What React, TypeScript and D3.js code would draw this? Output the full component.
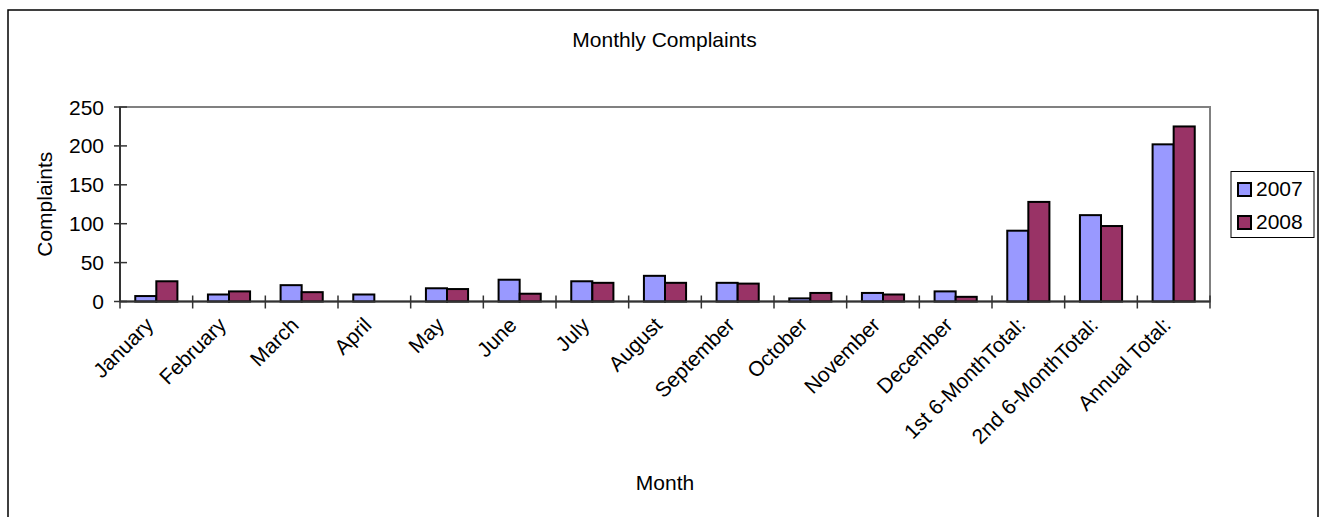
import * as d3 from 'd3';

const categories = [
  'January', 'February', 'March', 'April', 'May', 'June', 'July', 'August',
  'September', 'October', 'November', 'December',
  '1st 6-MonthTotal:', '2nd 6-MonthTotal:', 'Annual Total:',
];
const series = ['2007', '2008'];
const values2007 = [7, 9, 21, 9, 17, 28, 26, 33, 24, 4, 11, 13, 91, 111, 202];
const values2008 = [26, 13, 12, 0, 16, 10, 24, 24, 23, 11, 9, 6, 128, 97, 225];
const yTicks = [0, 50, 100, 150, 200, 250];
const colors = ['#9999FF', '#993366'];

const W = 1322;
const H = 517;
const plot = { left: 120, right: 1210, top: 107, bottom: 301.5 };
const font = '"Liberation Sans", Arial, sans-serif';
const fs = 21;

export default function App() {
  const x = d3.scaleBand<string>().domain(categories).range([plot.left, plot.right]);
  const bw = x.bandwidth();
  const xs = d3.scaleBand<string>().domain(series).range([bw * 0.21, bw * 0.79]);
  const y = d3.scaleLinear().domain([0, 250]).range([plot.bottom, plot.top]);
  const data = [values2007, values2008];

  return (
    <svg width={W} height={H} style={{ position: 'absolute', left: 0, top: 0, background: '#fff' }}
      fontFamily={font}>
      {/* outer frame */}
      <rect x={8} y={10} width={1310} height={520} fill="#fff" stroke="#000" strokeWidth={1.5} />

      <text x={664.5} y={46.5} textAnchor="middle" fontSize={fs}>Monthly Complaints</text>

      {/* plot border */}
      <rect x={plot.left} y={plot.top} width={plot.right - plot.left} height={plot.bottom - plot.top}
        fill="none" stroke="#808080" strokeWidth={2} />

      {/* bars */}
      {series.map((s, si) => categories.map((c, ci) => {
        const v = data[si][ci];
        if (!v) return null;
        return (
          <rect key={s + c} x={x(c)! + xs(s)!} y={y(v)} width={xs.bandwidth()} height={y(0) - y(v)}
            fill={colors[si]} stroke="#000" strokeWidth={2} />
        );
      }))}

      {/* y axis */}
      <line x1={plot.left} x2={plot.left} y1={plot.top} y2={plot.bottom} stroke="#333" strokeWidth={2} />
      {yTicks.map(t => (
        <g key={t}>
          <line x1={plot.left - 6} x2={plot.left + 7} y1={y(t)} y2={y(t)} stroke="#333" strokeWidth={1.5} />
          <text x={104} y={y(t)} dy="0.36em" textAnchor="end" fontSize={fs}>{t}</text>
        </g>
      ))}

      {/* x axis */}
      <line x1={plot.left} x2={plot.right} y1={plot.bottom} y2={plot.bottom} stroke="#333" strokeWidth={2} />
      {categories.map(c => x(c)!).concat([plot.right]).map((tx, i) => (
        <line key={i} x1={tx} x2={tx} y1={plot.bottom - 6} y2={plot.bottom + 7} stroke="#333" strokeWidth={1.5} />
      ))}
      {categories.map(c => {
        const cx = x(c)! + bw / 2;
        return (
          <text key={c} transform={`translate(${cx - 12},${316}) rotate(-45)`} textAnchor="end"
            dy="0.7em" fontSize={fs}>{c}</text>
        );
      })}

      <text transform={`translate(52,${(plot.top + plot.bottom) / 2}) rotate(-90)`} textAnchor="middle"
        fontSize={fs}>Complaints</text>
      <text x={665} y={490} textAnchor="middle" fontSize={fs}>Month</text>

      {/* legend */}
      <rect x={1231} y={171.5} width={83} height={66} fill="#fff" stroke="#000" strokeWidth={1} />
      {series.map((s, i) => (
        <g key={s} transform={`translate(0,${i * 33})`}>
          <rect x={1238} y={183} width={13} height={13} fill={colors[i]} stroke="#000" strokeWidth={2} />
          <text x={1256} y={196} fontSize={fs}>{s}</text>
        </g>
      ))}
    </svg>
  );
}
